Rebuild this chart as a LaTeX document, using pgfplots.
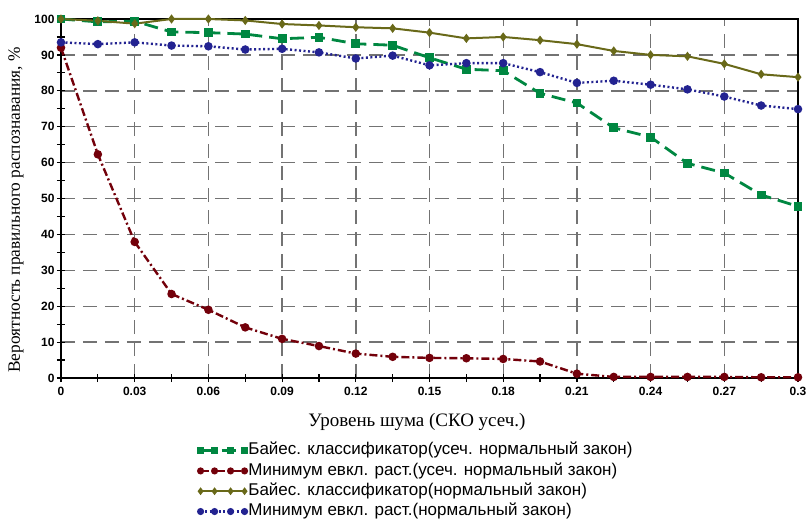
\documentclass[border=0pt]{standalone}
\usepackage{fontspec}
\setmainfont{Liberation Serif}
\setsansfont{Liberation Sans}
\usepackage{pgfplots}
\pgfplotsset{compat=1.18}
\definecolor{cgreen}{RGB}{0,135,65}
\definecolor{cred}{RGB}{115,0,10}
\definecolor{colive}{RGB}{105,105,25}
\definecolor{cblue}{RGB}{35,35,145}
\begin{document}
\begin{tikzpicture}
\begin{axis}[
  at={(0,0)}, anchor=south west,
  scale only axis, width=737pt, height=359pt,
  xmin=0, xmax=0.3, ymin=0, ymax=100,
  clip=false,
  axis line style={black, line width=1.8pt},
  xtick={0,0.03,0.06,0.09,0.12,0.15,0.18,0.21,0.24,0.27,0.3},
  xticklabels={0,0.03,0.06,0.09,0.12,0.15,0.18,0.21,0.24,0.27,0.3},
  ytick={0,10,...,100},
  minor x tick num=1, minor y tick num=1,
  xtick pos=left, ytick pos=left,
  tick align=center,
  major tick length=8pt, minor tick length=8pt,
  every tick/.style={black, line width=1.2pt},
  /pgf/number format/assume math mode=true,
  tick label style={font=\fontsize{12}{14}\selectfont\sffamily\bfseries},
  xticklabel style={yshift=-2pt},
  yticklabel style={xshift=1pt},
  grid=major,
  major grid style={black!55, line width=1.4pt, dash pattern=on 14pt off 8pt},
  xlabel={Уровень шума (СКО усеч.)},
  xlabel style={font=\fontsize{19}{21}\selectfont, at={(axis description cs:0.483,-0.1226)}, anchor=center},
  ylabel={Вероятность правильного распознавания, \%},
  ylabel style={font=\fontsize{17.3}{20}\selectfont, at={(axis description cs:-0.061,0.468)}, anchor=center},
  legend cell align=left,
  legend style={draw=none, fill=none, at={(axis description cs:0.186,-0.176)}, anchor=north west,
    font=\fontsize{17}{19}\selectfont\sffamily, inner sep=0pt,
    nodes={inner sep=1.5pt, text height=12pt, text depth=3.5pt}, row sep=1.8pt},
  legend image code/.code={\draw[mark repeat=1, mark phase=1, mark size=2.3pt] plot coordinates {(0pt,0pt) (14pt,0pt) (30pt,0pt) (44pt,0pt)};},
]
\addplot[cgreen, line width=2.8pt, dash pattern=on 14pt off 7pt, mark=square*, mark size=3pt, mark options={solid}] coordinates {
(0,100)(0.015,99.2)(0.03,99.4)(0.045,96.4)(0.06,96.2)(0.075,95.8)(0.09,94.5)(0.105,94.9)(0.12,93.1)(0.135,92.7)(0.15,89.2)(0.165,86)(0.18,85.6)(0.195,79.3)(0.21,76.6)(0.225,69.7)(0.24,67.1)(0.255,59.8)(0.27,57.1)(0.285,51)(0.3,47.8)};
\addlegendentry{Байес. классификатор(усеч. нормальный закон)}
\addplot[cred, line width=2.4pt, dash pattern=on 8pt off 3pt on 2pt off 3pt, mark=*, mark size=3pt, mark options={solid}] coordinates {
(0,92)(0.015,62.3)(0.03,37.9)(0.045,23.4)(0.06,19)(0.075,14.1)(0.09,10.9)(0.105,8.9)(0.12,6.8)(0.135,5.9)(0.15,5.6)(0.165,5.5)(0.18,5.3)(0.195,4.6)(0.21,1.2)(0.225,0.3)(0.24,0.3)(0.255,0.3)(0.27,0.3)(0.285,0.2)(0.3,0.2)};
\addlegendentry{Минимум евкл. раст.(усеч. нормальный закон)}
\addplot[colive, line width=2pt, mark=diamond*, mark size=3pt] coordinates {
(0,100)(0.015,99.5)(0.03,98.7)(0.045,100)(0.06,100)(0.075,99.6)(0.09,98.6)(0.105,98.2)(0.12,97.7)(0.135,97.4)(0.15,96.2)(0.165,94.6)(0.18,95)(0.195,94.1)(0.21,93)(0.225,91.1)(0.24,90)(0.255,89.6)(0.27,87.5)(0.285,84.6)(0.3,83.8)};
\addlegendentry{Байес. классификатор(нормальный закон)}
\addplot[cblue, line width=2.4pt, dash pattern=on 2pt off 2.5pt, mark=*, mark size=3pt, mark options={solid}] coordinates {
(0,93.5)(0.015,93)(0.03,93.5)(0.045,92.6)(0.06,92.4)(0.075,91.5)(0.09,91.7)(0.105,90.7)(0.12,89)(0.135,89.8)(0.15,87.1)(0.165,87.7)(0.18,87.7)(0.195,85.2)(0.21,82.2)(0.225,82.8)(0.24,81.7)(0.255,80.4)(0.27,78.4)(0.285,75.9)(0.3,74.9)};
\addlegendentry{Минимум евкл. раст.(нормальный закон)}
\end{axis}
\pgfresetboundingbox
\path (-61pt,-142pt) rectangle (746pt,378pt);
\end{tikzpicture}
\end{document}
